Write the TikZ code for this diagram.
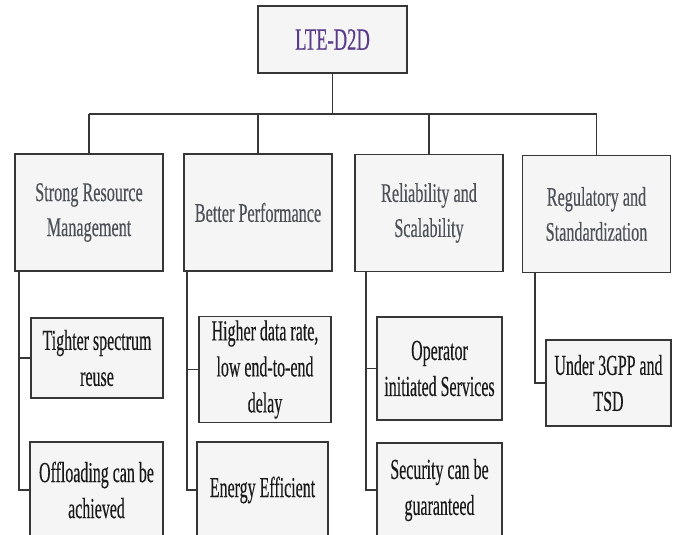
\documentclass[tikz,border=0pt]{standalone}
\usepackage{fontspec}
\newfontfamily\catserif[FakeStretch=0.6,FakeBold=0.3]{Liberation Serif}
\newfontfamily\childserif[FakeStretch=0.55,FakeBold=0.3]{Liberation Serif}
\newfontfamily\rootserif[FakeStretch=0.6,FakeBold=0.3]{Liberation Serif}
\definecolor{linegray}{HTML}{363636}
\definecolor{boxfill}{HTML}{F5F5F5}
\definecolor{cattext}{HTML}{4C5157}
\definecolor{childtext}{HTML}{1A1A1A}
\definecolor{roottext}{HTML}{5A3A8A}
\begin{document}
\begin{tikzpicture}[x=1pt,y=-1pt,
  box/.style={draw=linegray, line width=1.4pt, fill=boxfill, align=center, inner sep=0pt},
  rootbox/.style={box, minimum width=149pt, minimum height=67pt, text=roottext,
    font={\rootserif\fontsize{31}{36}\selectfont}},
  catbox/.style={box, minimum width=148pt, minimum height=117pt, text=cattext,
    font={\catserif\fontsize{27}{35}\selectfont}},
  childbox/.style={box, text=childtext, font={\childserif\fontsize{29}{36}\selectfont}},
  conn/.style={draw=linegray, line width=1.2pt}]
\useasboundingbox (0,0) rectangle (673,535);
\clip (0,0) rectangle (673,535);

\node[rootbox] (root) at (332.5,39.5) {LTE-D2D};

\node[catbox] (c1) at (89,212.5) {Strong Resource\\Management};
\node[catbox] (c2) at (258,212.5) {Better Performance};
\node[catbox] (c3) at (429,213) {Reliability and\\Scalability};
\node[catbox] (c4) at (596.5,214) {Regulatory and\\Standardization};

\node[childbox, minimum width=132pt, minimum height=80pt] (a1) at (97,358) {Tighter spectrum\\reuse};
\node[childbox, minimum width=133pt, minimum height=96pt] (a2) at (96.5,490) {Offloading can be\\achieved};
\node[childbox, minimum width=132pt, minimum height=106pt] (b1) at (265,369.5) {Higher data rate,\\low end-to-end\\delay};
\node[childbox, minimum width=131pt, minimum height=96pt] (b2) at (262.5,490) {Energy Efficient};
\node[childbox, minimum width=125pt, minimum height=103pt] (d1) at (439.5,368.5) {Operator\\initiated Services};
\node[childbox, minimum width=125pt, minimum height=94pt] (d2) at (439.5,490) {Security can be\\guaranteed};
\node[childbox, minimum width=125pt, minimum height=86pt] (e1) at (608.5,383) {Under 3GPP and\\TSD};

\coordinate (hl) at (0,114);
\draw[conn] (root.south) -- (root.south |- hl);
\draw[conn] (c1.north |- hl) -- (c4.north |- hl);
\foreach \n in {c1,c2,c3,c4} \draw[conn] (\n.north |- hl) -- (\n.north);

\coordinate (p1) at (19,0);
\coordinate (p2) at (187,0);
\coordinate (p3) at (366,0);
\coordinate (p4) at (535,0);
\draw[conn] (p1 |- c1.south) |- (a1.west);
\draw[conn] (p1 |- c1.south) |- (a2.west);
\draw[conn] (p2 |- c2.south) |- (b1.west);
\draw[conn] (p2 |- c2.south) |- (b2.west);
\draw[conn] (p3 |- c3.south) |- (d1.west);
\draw[conn] (p3 |- c3.south) |- (d2.west);
\draw[conn] (p4 |- c4.south) |- (e1.west);
\end{tikzpicture}
\end{document}
